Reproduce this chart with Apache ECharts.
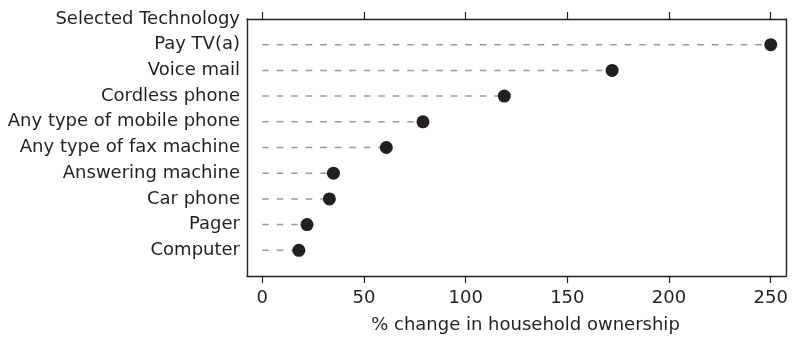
<!DOCTYPE html>
<html>
<head>
<meta charset="utf-8">
<script src="https://cdn.jsdelivr.net/npm/echarts@6/dist/echarts.min.js"></script>
<style>
html,body{margin:0;padding:0;background:#fff;}
#chart{width:792px;height:340px;}
</style>
</head>
<body>
<div id="chart"></div>
<script>
// Data
const categories = ['Pay TV(a)', 'Voice mail', 'Cordless phone', 'Any type of mobile phone',
  'Any type of fax machine', 'Answering machine', 'Car phone', 'Pager', 'Computer'];
const values = [250, 172, 119, 79, 61, 35, 33, 22, 18];
const tickValues = [0, 50, 100, 150, 200, 250];
const axisTitleY = 'Selected Technology';
const axisTitleX = '% change in household ownership';

const FONT = 'DejaVu Sans';
const INK = '#231f20';
const yCats = [axisTitleY].concat(categories).concat(['']);
const pts = categories.map((c, i) => [values[i], c]);

const chart = echarts.init(document.getElementById('chart'), null, {renderer: 'canvas'});
chart.setOption({
  animation: false,
  backgroundColor: '#fff',
  grid: {left: 247, right: 6, top: 19, bottom: 64, containLabel: false},
  xAxis: [{
    type: 'value', position: 'bottom', min: -7.5, max: 257.5,
    axisLine: {show: true, onZero: false, lineStyle: {color: INK, width: 1.4}},
    axisTick: {show: true, customValues: tickValues, length: 7, lineStyle: {color: INK, width: 1.2}},
    axisLabel: {show: true, customValues: tickValues, margin: 13, color: INK, fontFamily: FONT, fontSize: 18},
    splitLine: {show: false},
    name: axisTitleX, nameLocation: 'middle', nameGap: 40,
    nameTextStyle: {color: INK, fontFamily: FONT, fontSize: 18, padding: [0, 0, 0, 18]}
  }, {
    type: 'value', position: 'top', min: -7.5, max: 257.5,
    axisLine: {show: true, onZero: false, lineStyle: {color: INK, width: 1.4}},
    axisTick: {show: true, customValues: tickValues, length: 7, lineStyle: {color: INK, width: 1.2}},
    axisLabel: {show: false},
    splitLine: {show: false}
  }],
  yAxis: [{
    type: 'category', data: yCats, inverse: true, boundaryGap: false,
    axisLine: {show: true, onZero: false, lineStyle: {color: INK, width: 1.4}},
    axisTick: {show: false},
    axisLabel: {interval: 0, margin: 7, color: INK, fontFamily: FONT, fontSize: 18},
    splitLine: {show: false}
  }, {
    type: 'value', position: 'right', min: 0, max: 1,
    axisLine: {show: true, onZero: false, lineStyle: {color: INK, width: 1.4}},
    axisTick: {show: false}, axisLabel: {show: false}, splitLine: {show: false}
  }],
  series: [{
    type: 'custom', xAxisIndex: 0, yAxisIndex: 0, data: pts, silent: true,
    renderItem: function (params, api) {
      const p0 = api.coord([0, api.value(1)]);
      const p1 = api.coord([api.value(0), api.value(1)]);
      return {type: 'line', shape: {x1: p0[0], y1: p0[1], x2: p1[0], y2: p1[1]},
        style: {stroke: '#9a9a9a', lineWidth: 1.5, lineDash: [6.5, 8]}};
    },
    encode: {x: 0, y: 1}
  }, {
    type: 'scatter', xAxisIndex: 0, yAxisIndex: 0, data: pts,
    symbol: 'circle', symbolSize: 13,
    itemStyle: {color: INK, opacity: 1}, silent: true
  }]
});
</script>
</body>
</html>
